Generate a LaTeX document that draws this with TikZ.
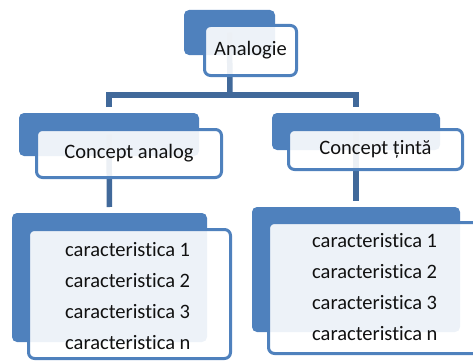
\documentclass[tikz,border=0pt]{standalone}
\usepackage{fontspec}
\setmainfont[Ligatures=NoCommon]{Carlito}
\definecolor{boxblue}{HTML}{4F81BD}
\definecolor{connblue}{HTML}{41699A}
\definecolor{textcol}{HTML}{111111}
\begin{document}
\begin{tikzpicture}[x=1pt,y=-1pt,
  backbox/.style={fill=boxblue, rounded corners=5pt, inner sep=0pt, outer sep=0pt},
  frontbox/.style={draw=boxblue, line width=3pt, fill=white, fill opacity=0.9, text opacity=1,
    rounded corners=6pt, inner sep=0pt, outer sep=0pt, text=textcol, font=\fontsize{20.5}{24}\selectfont},
  listtext/.style={align=left, anchor=west, inner sep=0pt, text=textcol, font=\fontsize{20.5}{31}\selectfont},
  conn/.style={draw=connblue, line width=5.5pt}]
\clip (0,0) rectangle (473,361);
% back boxes
\node[backbox, minimum width=91pt, minimum height=45pt] (aback) at (229.5,32.5) {};
\node[backbox, minimum width=180pt, minimum height=43pt] (cab) at (109,134.5) {};
\node[backbox, minimum width=168pt, minimum height=37pt] (ctb) at (356,131.5) {};
\node[backbox, minimum width=195pt, minimum height=129pt] (lab) at (109.5,277.5) {};
\node[backbox, minimum width=208pt, minimum height=125pt] (ltb) at (356,269.5) {};
% connectors
\coordinate (bar) at (230,95);
\draw[conn] (aback.center) -- (bar);
\draw[conn, shorten <=6pt, shorten >=6pt] (cab.north) |- (bar) -| (ctb.north);
\draw[conn, shorten >=6pt] (cab.center) -- (lab.north);
\draw[conn, shorten >=6pt] (ctb.center) -- (ltb.north);
% front boxes
\node[frontbox, minimum width=92pt, minimum height=50pt] (afront) at (250.5,50.5) {Analogie};
\node[frontbox, minimum width=185pt, minimum height=48pt] (caf) at (129,153.5) {Concept analog};
\node[frontbox, minimum width=174pt, minimum height=40pt] (ctf) at (375.5,149.5) {Concept țintă};
\node[frontbox, minimum width=202pt, minimum height=129pt] (laf) at (129.5,294) {};
\node[frontbox, minimum width=216pt, minimum height=131pt] (ltf) at (376.5,288) {};
% list texts
\node[listtext] (lat) at (65,296.5) {caracteristica 1\\caracteristica 2\\caracteristica 3\\caracteristica n};
\node[listtext] (ltt) at (312,287.5) {caracteristica 1\\caracteristica 2\\caracteristica 3\\caracteristica n};
\end{tikzpicture}
\end{document}
